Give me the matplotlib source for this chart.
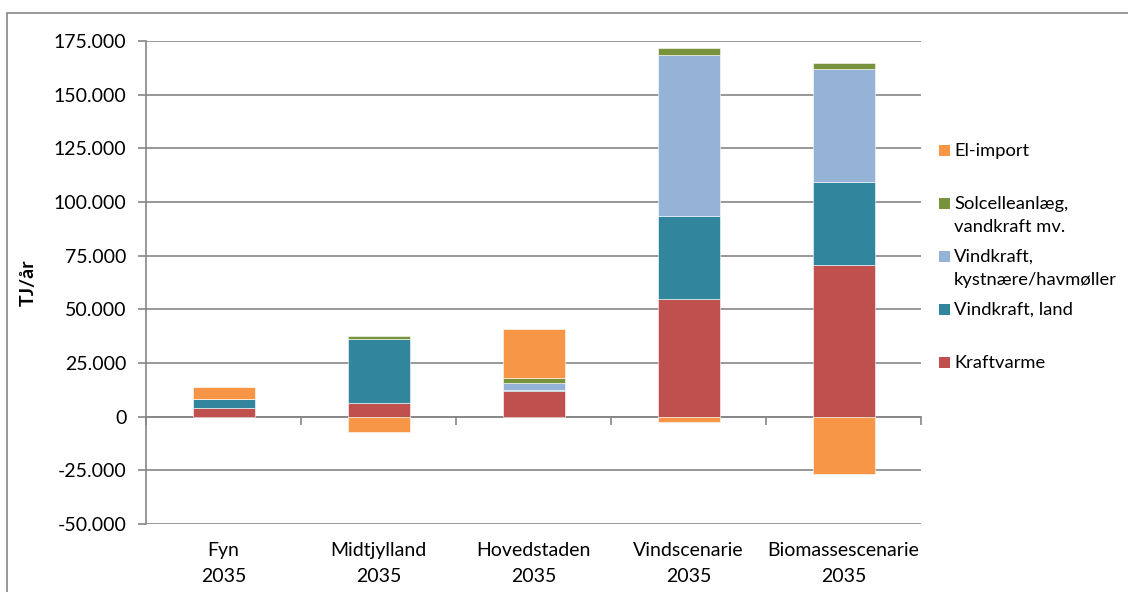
import numpy as np
import matplotlib
matplotlib.use("Agg")
import matplotlib.pyplot as plt
from matplotlib.patches import Rectangle
from matplotlib.ticker import FuncFormatter

categories = ["Fyn\n2035", "Midtjylland\n2035", "Hovedstaden\n2035",
              "Vindscenarie\n2035", "Biomassescenarie\n2035"]

# TJ/år
kraftvarme = [4200, 6400, 12000, 54900, 70600]
vind_land = [4200, 29600, 500, 38800, 38900]
vind_hav = [0, 0, 3000, 74800, 52300]
sol = [0, 1400, 2300, 3100, 3000]
el_import = [5200, -7000, 23200, -2500, -26700]

series_names = ["Kraftvarme", "Vindkraft, land",
                "Vindkraft,\nkystnære/havmøller",
                "Solcelleanlæg,\nvandkraft mv.", "El-import"]
series_values = [kraftvarme, vind_land, vind_hav, sol, el_import]
colors = ["#C0504D", "#31859C", "#95B3D7", "#77933C", "#F79646"]

y_ticks = list(range(-50000, 175001, 25000))

GRID = "#868686"


def thousands(v, pos=None):
    return f"{v:,.0f}".replace(",", ".")


def main():
    plt.rcParams["font.family"] = ["Lato", "DejaVu Sans"]
    W, H = 1128, 592
    fig = plt.figure(figsize=(W / 100, H / 100), dpi=100)
    ax = fig.add_axes([146 / W, 1 - 524 / H, (921 - 146) / W, (524 - 41) / H])

    x = np.arange(len(categories))
    pos_base = np.zeros(len(categories))
    neg_base = np.zeros(len(categories))
    for vals, color in zip(series_values, colors):
        vals = np.array(vals, dtype=float)
        bottom = np.where(vals >= 0, pos_base, neg_base)
        ax.bar(x, vals, width=0.4, bottom=bottom, color=color,
               edgecolor="white", linewidth=0.4, zorder=3)
        pos_base += np.clip(vals, 0, None)
        neg_base += np.clip(vals, None, 0)

    ax.set_xlim(-0.5, len(categories) - 0.5)
    ax.set_ylim(y_ticks[0], y_ticks[-1])
    ax.set_yticks(y_ticks)
    ax.yaxis.set_major_formatter(FuncFormatter(thousands))
    ax.grid(axis="y", color=GRID, linewidth=1.2, zorder=0)
    for s in ["top", "right", "bottom"]:
        ax.spines[s].set_visible(False)
    ax.spines["left"].set_color(GRID)
    ax.spines["left"].set_linewidth(1.2)
    ax.tick_params(axis="y", length=6, width=1.2, color=GRID,
                   labelsize=14, pad=8)

    ax.set_xticks(x)
    ax.set_xticklabels(categories, fontsize=14, linespacing=1.65)
    ax.tick_params(axis="x", length=0, pad=13)

    # category axis crossing at zero
    zero_frac = -y_ticks[0] / (y_ticks[-1] - y_ticks[0])
    sec = ax.secondary_xaxis(zero_frac)
    sec.set_xticks(np.arange(-0.5, len(categories), 1.0))
    sec.tick_params(length=6, width=1.2, color=GRID, labelbottom=False)
    sec.spines["bottom"].set_color(GRID)
    sec.spines["bottom"].set_linewidth(1.2)

    ax.set_ylabel("TJ/år", fontsize=14, fontweight="bold", labelpad=12)

    # legend, top entry first
    for i, (name, color) in enumerate(zip(series_names[::-1], colors[::-1])):
        yc = 150.5 + 53 * i
        fig.patches.append(Rectangle((939 / W, 1 - (yc + 5.5) / H), 11 / W,
                                     11 / H, transform=fig.transFigure,
                                     facecolor=color, edgecolor="none"))
        for j, line in enumerate(name.split("\n")):
            fig.text(954 / W, 1 - (yc + 24 * j) / H, line, fontsize=13.2,
                     va="center", ha="left")

    # outer chart frame
    fig.patches.append(Rectangle((7 / W, -0.2), 1.2, 1.2 - 13 / H,
                                 transform=fig.transFigure, fill=False,
                                 edgecolor=GRID, linewidth=1.2))

    plt.savefig("out.png", dpi=100)


if __name__ == "__main__":
    main()
